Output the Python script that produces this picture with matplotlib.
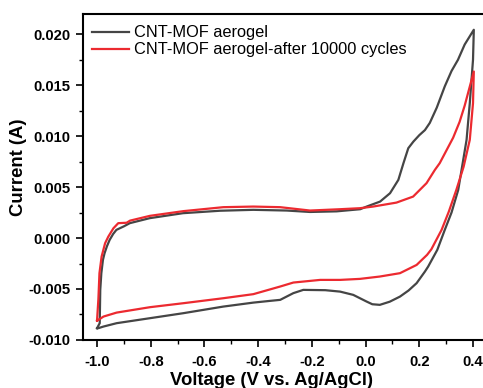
import matplotlib
matplotlib.use("Agg")
import matplotlib.pyplot as plt
from matplotlib.ticker import MultipleLocator, FormatStrFormatter

plt.rcParams["font.family"] = ["Liberation Sans", "DejaVu Sans"]
plt.rcParams["axes.unicode_minus"] = False

# CNT-MOF aerogel (anodic sweep then cathodic sweep)
v_fresh = [-1.000, -0.990, -0.988, -0.984, -0.978, -0.972, -0.963, -0.953, -0.940,
           -0.928, -0.900, -0.878, -0.804, -0.680, -0.542, -0.418, -0.294, -0.207,
           -0.108, -0.020, 0.004, 0.054, 0.091, 0.122, 0.141, 0.159, 0.178, 0.200,
           0.221, 0.239, 0.265, 0.295, 0.320, 0.344, 0.369, 0.403,
           0.400, 0.388, 0.376, 0.345, 0.320, 0.295, 0.267, 0.233, 0.221, 0.190,
           0.160, 0.128, 0.090, 0.053, 0.025, 0.004, -0.046, -0.095, -0.150, -0.232,
           -0.269, -0.318, -0.356, -0.418, -0.530, -0.679, -0.803, -0.927, -0.976,
           -0.995, -1.000]
i_fresh = [-0.00885, -0.00836, -0.00509, -0.00345, -0.00214, -0.00149, -0.00080,
           -0.00018, 0.00040, 0.00080, 0.00115, 0.00146, 0.00195, 0.00244, 0.00268,
           0.00277, 0.00270, 0.00256, 0.00262, 0.00283, 0.00309, 0.00358, 0.00440,
           0.00571, 0.00735, 0.00882, 0.00947, 0.01010, 0.01060, 0.01130, 0.01280,
           0.01490, 0.01640, 0.01750, 0.01900, 0.02045,
           0.01750, 0.01324, 0.00964, 0.00473, 0.00250, 0.00081, -0.00116, -0.00280,
           -0.00329, -0.00443, -0.00515, -0.00575, -0.00625, -0.00656, -0.00650,
           -0.00624, -0.00558, -0.00526, -0.00512, -0.00509, -0.00541, -0.00607,
           -0.00617, -0.00634, -0.00673, -0.00738, -0.00787, -0.00836, -0.00869,
           -0.00885, -0.00885]

# CNT-MOF aerogel after 10000 cycles
v_cycled = [-1.000, -0.995, -0.991, -0.983, -0.970, -0.958, -0.939, -0.921, -0.890,
            -0.877, -0.803, -0.679, -0.530, -0.418, -0.318, -0.207, -0.095, -0.021,
            0.028, 0.115, 0.177, 0.227, 0.258, 0.276, 0.300, 0.326, 0.350, 0.369,
            0.403,
            0.400, 0.388, 0.365, 0.338, 0.310, 0.283, 0.245, 0.229, 0.190, 0.128,
            0.053, -0.021, -0.095, -0.169, -0.269, -0.318, -0.418, -0.530, -0.679,
            -0.803, -0.927, -0.976, -0.995, -1.000]
i_cycled = [-0.00810, -0.00600, -0.00345, -0.00182, -0.00051, 0.00014, 0.00096,
            0.00146, 0.00150, 0.00171, 0.00218, 0.00264, 0.00303, 0.00309, 0.00303,
            0.00270, 0.00283, 0.00293, 0.00309, 0.00348, 0.00407, 0.00539, 0.00669,
            0.00735, 0.00855, 0.00985, 0.01140, 0.01300, 0.01635,
            0.01324, 0.00964, 0.00700, 0.00473, 0.00260, 0.00080, -0.00110, -0.00165,
            -0.00264, -0.00345, -0.00378, -0.00401, -0.00411, -0.00411, -0.00437,
            -0.00476, -0.00551, -0.00591, -0.00640, -0.00679, -0.00732, -0.00771,
            -0.00804, -0.00810]

labels = ["CNT-MOF aerogel", "CNT-MOF aerogel-after 10000 cycles"]

fig = plt.figure(figsize=(4.83, 3.88), dpi=100)
ax = fig.add_axes([0.172, 0.124, 0.834, 0.840])

ax.plot(v_fresh, i_fresh, color="#454545", lw=1.6, label=labels[0])
ax.plot(v_cycled, i_cycled, color="#ec2a30", lw=1.6, label=labels[1])

ax.set_xlim(-1.052, 0.448)
ax.set_ylim(-0.010, 0.022)
ax.xaxis.set_major_locator(MultipleLocator(0.2))
ax.xaxis.set_minor_locator(MultipleLocator(0.1))
ax.yaxis.set_major_locator(MultipleLocator(0.005))
ax.yaxis.set_minor_locator(MultipleLocator(0.0025))
ax.xaxis.set_major_formatter(FormatStrFormatter("%.1f"))
ax.yaxis.set_major_formatter(FormatStrFormatter("%.3f"))

ax.tick_params(which="major", direction="out", length=5, width=1.2,
               labelsize=10.7, top=False, right=False)
ax.tick_params(which="minor", direction="out", length=3, width=1.0,
               top=False, right=False)
ax.tick_params(axis="x", which="major", pad=6)
ax.tick_params(axis="y", which="major", pad=4)
for lab in ax.get_xticklabels() + ax.get_yticklabels():
    lab.set_fontweight("bold")
for sp in ax.spines.values():
    sp.set_linewidth(1.5)

ax.set_xlabel("Voltage (V vs. Ag/AgCl)", fontsize=13.3, fontweight="bold")
ax.set_ylabel("Current (A)", fontsize=13.3, fontweight="bold")
ax.xaxis.set_label_coords(0.468, -0.100)
ax.yaxis.set_label_coords(-0.138, 0.531)

ax.legend(loc="upper left", frameon=False, fontsize=11.8, handlelength=2.3,
          handletextpad=0.3, labelspacing=0.12, borderaxespad=0.0,
          bbox_to_anchor=(0.005, 0.985))

fig.savefig("out.png", dpi=100)
